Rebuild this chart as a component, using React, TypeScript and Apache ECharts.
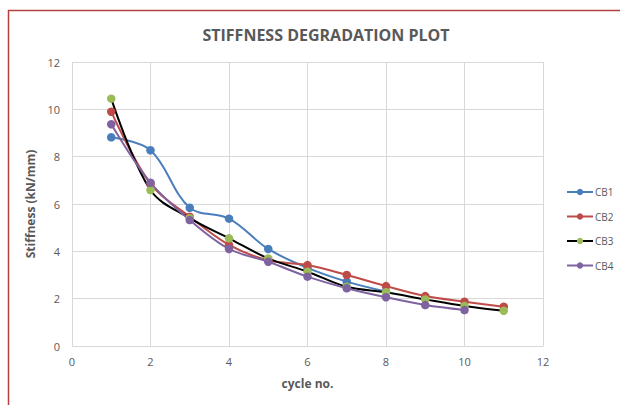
import React, { useEffect, useRef } from "react";
import * as echarts from "echarts";

const cycles = [1, 2, 3, 4, 5, 6, 7, 8, 9, 10, 11];
const cb1 = [8.82, 8.27, 5.84, 5.38, 4.1, 3.3, 2.72, 2.3];
const cb2 = [9.9, 6.85, 5.46, 4.27, 3.62, 3.42, 3.0, 2.53, 2.11, 1.87, 1.66];
const cb3 = [10.45, 6.59, 5.4, 4.55, 3.7, 3.14, 2.5, 2.27, 1.97, 1.69, 1.49];
const cb4 = [9.37, 6.9, 5.32, 4.1, 3.56, 2.93, 2.44, 2.06, 1.73, 1.52];

const pairs = (ys: number[]) => ys.map((y, i) => [cycles[i], y]);

export default function App() {
  const ref = useRef<HTMLDivElement>(null);
  useEffect(() => {
    const chart = echarts.init(ref.current!, null, { renderer: "svg" });
    const font = "'Open Sans', 'Noto Sans', sans-serif";
    const mk = (name: string, data: number[], color: string, lineColor?: string) => ({
      name,
      type: "line",
      data: pairs(data),
      smooth: 0.35,
      symbol: "circle",
      symbolSize: 8.5,
      itemStyle: { color },
      lineStyle: { color: lineColor || color, width: 2 },
    });
    chart.setOption({
      animation: false,
      backgroundColor: "#ffffff",
      textStyle: { fontFamily: font },
      title: {
        text: "STIFFNESS DEGRADATION PLOT",
        left: 321,
        top: 22,
        textAlign: "center",
        textStyle: { fontSize: 16, fontWeight: "bold", color: "#595959", fontFamily: font },
      },
      grid: { left: 72, right: 77, top: 62, bottom: 59 },
      legend: {
        orient: "vertical",
        left: 566,
        top: 187,
        itemGap: 14.5,
        itemWidth: 26,
        itemHeight: 8,
        padding: 0,
        textStyle: { fontSize: 10, color: "#595959", padding: [0, 0, 0, -3] },
        data: ["CB1", "CB2", "CB3", "CB4"],
      },
      xAxis: {
        type: "value",
        min: 0,
        max: 12,
        interval: 2,
        name: "cycle no.",
        nameLocation: "middle",
        nameGap: 31,
        nameTextStyle: { fontSize: 12, fontWeight: "bold", color: "#595959" },
        axisLine: { lineStyle: { color: "#d9d9d9" } },
        axisTick: { show: false },
        axisLabel: { fontSize: 11, color: "#595959", margin: 10 },
        splitLine: { show: true, lineStyle: { color: "#d9d9d9" } },
      },
      yAxis: {
        type: "value",
        min: 0,
        max: 12,
        interval: 2,
        name: "Stiffness (kN/mm)",
        nameLocation: "middle",
        nameGap: 29,
        nameTextStyle: { fontSize: 12, fontWeight: "bold", color: "#595959" },
        axisLine: { show: false },
        axisTick: { show: false },
        axisLabel: { fontSize: 11, color: "#595959", margin: 12 },
        splitLine: { show: true, lineStyle: { color: "#d9d9d9" } },
      },
      graphic: [
        { type: "line", shape: { x1: 8.5, y1: 10, x2: 8.5, y2: 405 }, style: { stroke: "#B5413E", lineWidth: 1.5 } },
        { type: "line", shape: { x1: 8, y1: 10.5, x2: 620, y2: 10.5 }, style: { stroke: "#B5413E", lineWidth: 1.5 } },
      ],
      series: [
        mk("CB1", cb1, "#4A7EBB"),
        mk("CB2", cb2, "#BE4B48"),
        mk("CB3", cb3, "#9BBB59", "#000000"),
        mk("CB4", cb4, "#7F63A1"),
      ],
    });
    return () => chart.dispose();
  }, []);
  return <div ref={ref} style={{ position: "absolute", left: 0, top: 0, width: 620, height: 405 }} />;
}
